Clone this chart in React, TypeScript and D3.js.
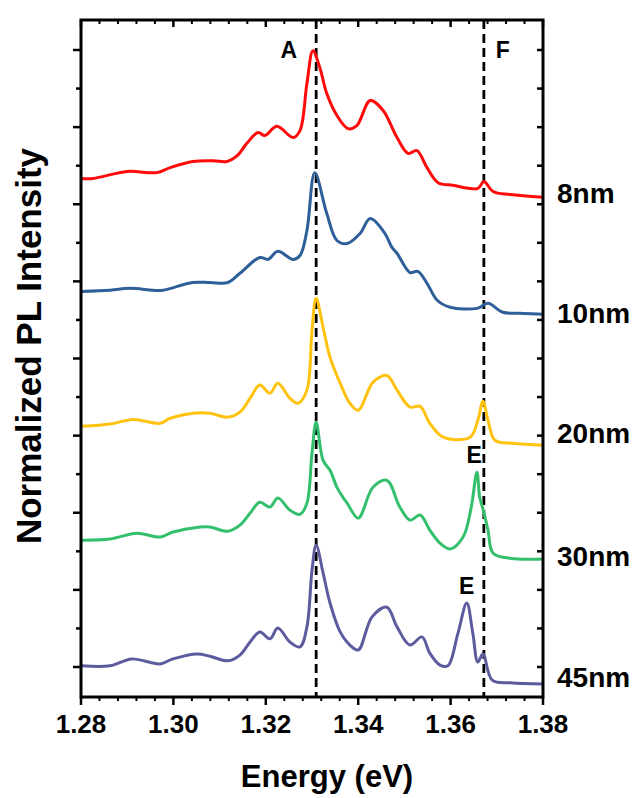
import React, { useEffect, useRef } from "react";
import * as d3 from "d3";

// spectra: energy in eV, intensity in stacked (offset) axis units
const energy8nm = [1.28, 1.2826, 1.29, 1.2964, 1.2993, 1.3042, 1.3086, 1.3116, 1.3138, 1.3159, 1.3183, 1.3198, 1.3224, 1.3259, 1.3274, 1.3289, 1.3302, 1.3317, 1.3332, 1.3354, 1.3378, 1.3397, 1.3426, 1.3454, 1.3484, 1.3508, 1.3527, 1.3549, 1.3573, 1.3605, 1.3659, 1.3672, 1.3692, 1.3729, 1.38];
const intensity8nm = [12.67, 12.67, 12.85, 12.82, 12.95, 13.11, 13.13, 13.11, 13.26, 13.58, 13.86, 13.78, 14.02, 13.73, 13.91, 15.13, 15.98, 15.54, 14.87, 14.3, 13.96, 14.04, 14.69, 14.43, 13.73, 13.32, 13.39, 12.95, 12.56, 12.49, 12.41, 12.59, 12.33, 12.25, 12.18];

const energy10nm = [1.2802, 1.2863, 1.2906, 1.2956, 1.2977, 1.3042, 1.3079, 1.3118, 1.3144, 1.3187, 1.3205, 1.3226, 1.3259, 1.3274, 1.3289, 1.3306, 1.3332, 1.3354, 1.3376, 1.3404, 1.3426, 1.3458, 1.3473, 1.3484, 1.3512, 1.3529, 1.3549, 1.3571, 1.3599, 1.3657, 1.3681, 1.3713, 1.3757, 1.38];
const intensity10nm = [9.74, 9.77, 9.82, 9.77, 9.77, 9.97, 9.97, 9.97, 10.21, 10.62, 10.57, 10.78, 10.57, 10.67, 11.32, 12.82, 11.76, 11.06, 10.98, 11.24, 11.63, 11.24, 10.88, 10.73, 10.23, 10.26, 9.95, 9.51, 9.33, 9.3, 9.43, 9.2, 9.17, 9.15];

const energy20nm = [1.2802, 1.2863, 1.2913, 1.2971, 1.2993, 1.3042, 1.3079, 1.3118, 1.3144, 1.3166, 1.3187, 1.3209, 1.3226, 1.3252, 1.327, 1.3289, 1.33, 1.3309, 1.3324, 1.3339, 1.3361, 1.3382, 1.34, 1.3432, 1.3462, 1.3484, 1.3512, 1.3534, 1.3555, 1.3584, 1.3642, 1.3659, 1.367, 1.3681, 1.3696, 1.3735, 1.38];
const intensity20nm = [6.24, 6.3, 6.42, 6.32, 6.45, 6.58, 6.58, 6.48, 6.61, 6.97, 7.31, 7.1, 7.36, 6.97, 6.84, 7.18, 8.73, 9.56, 8.81, 8.03, 7.36, 6.84, 6.66, 7.38, 7.56, 7.18, 6.74, 6.76, 6.32, 5.96, 5.96, 6.4, 6.89, 6.4, 5.88, 5.8, 5.75];

const energy30nm = [1.2802, 1.2863, 1.2921, 1.2971, 1.2999, 1.3058, 1.3079, 1.3118, 1.3144, 1.3166, 1.3187, 1.3209, 1.3226, 1.3252, 1.3274, 1.3289, 1.33, 1.3309, 1.3324, 1.3339, 1.3354, 1.3367, 1.3376, 1.34, 1.3432, 1.3462, 1.349, 1.3512, 1.3534, 1.3555, 1.3577, 1.3599, 1.3627, 1.3644, 1.3657, 1.3663, 1.367, 1.3681, 1.3692, 1.3729, 1.38];
const intensity30nm = [3.29, 3.32, 3.47, 3.37, 3.5, 3.63, 3.63, 3.52, 3.68, 3.99, 4.27, 4.15, 4.38, 4.07, 3.96, 4.25, 5.55, 6.35, 5.36, 5.1, 4.66, 4.4, 4.25, 3.86, 4.66, 4.84, 4.15, 3.81, 3.94, 3.55, 3.21, 3.06, 3.37, 4.1, 5.05, 4.4, 4.1, 3.55, 2.95, 2.82, 2.8];

const energy45nm = [1.2802, 1.2863, 1.291, 1.2971, 1.2999, 1.3051, 1.3079, 1.3118, 1.3144, 1.3166, 1.3187, 1.3209, 1.3226, 1.3252, 1.3274, 1.3289, 1.33, 1.3309, 1.3324, 1.3339, 1.3361, 1.3382, 1.34, 1.343, 1.3462, 1.3484, 1.3512, 1.3538, 1.3555, 1.3577, 1.3594, 1.3616, 1.3635, 1.3648, 1.3659, 1.367, 1.369, 1.3729, 1.38];
const intensity45nm = [0.03, 0.03, 0.21, 0.08, 0.21, 0.34, 0.28, 0.16, 0.31, 0.65, 0.91, 0.73, 1.01, 0.65, 0.52, 1.04, 2.51, 3.16, 2.44, 1.66, 0.91, 0.57, 0.44, 1.3, 1.55, 1.04, 0.57, 0.78, 0.36, 0.05, 0.03, 0.88, 1.66, 0.88, 0.13, 0.34, -0.34, -0.41, -0.44];

const seriesNames = ["8nm", "10nm", "20nm", "30nm", "45nm"];
const seriesEnergies = [energy8nm, energy10nm, energy20nm, energy30nm, energy45nm];
const seriesIntensities = [intensity8nm, intensity10nm, intensity20nm, intensity30nm, intensity45nm];
const seriesColors = ["#ff0a0a", "#2f5f98", "#ffc20e", "#33bf6c", "#5c5b9e"];
// where each thickness label sits (axis units)
const nameLevels = [12.02, 8.91, 5.8, 2.62, -0.52];

const xTickValues = [1.28, 1.3, 1.32, 1.34, 1.36, 1.38];
const peakLines = [1.3309, 1.3672];
const peakLetters = ["A", "F", "E", "E"];
const peakLetterEnergy = [1.325, 1.3713, 1.3651, 1.3635];
const peakLetterLevel = [15.78, 15.78, 5.28, 1.89];

function App() {
  const ref = useRef<SVGSVGElement | null>(null);

  useEffect(() => {
    drawChart();
  }, []);

  const drawChart = () => {
    const width = 640;
    const height = 798;
    const plot = { left: 81, right: 543, top: 20, bottom: 697 };

    const svg = d3.select(ref.current);
    svg.selectAll("*").remove();

    svg.append("rect").attr("width", width).attr("height", height).attr("fill", "#fff");

    const xScale = d3.scaleLinear().domain([1.28, 1.38]).range([plot.left, plot.right]);
    const yScale = d3.scaleLinear().domain([0, 16]).range([667, 50]);

    const font = "'Liberation Sans', Arial, sans-serif";

    //---- minor / major ticks ----//
    const xMinor = d3.range(0, 26).map((i) => 1.28 + i * 0.004);
    const yTicks = d3.range(0, 17);

    const ticks = svg.append("g").attr("stroke", "#000");
    xMinor.forEach((v, i) => {
      const major = i % 5 === 0;
      const x = xScale(v);
      // bottom ticks point outward, top ones inward
      ticks.append("line").attr("x1", x).attr("x2", x)
        .attr("y1", plot.bottom).attr("y2", plot.bottom + (major ? 8 : 4))
        .attr("stroke-width", major ? 2.5 : 2);
      ticks.append("line").attr("x1", x).attr("x2", x)
        .attr("y1", plot.top).attr("y2", plot.top + (major ? 7 : 4))
        .attr("stroke-width", major ? 2.5 : 2);
    });
    yTicks.forEach((v) => {
      const major = v % 2 === 0;
      const y = yScale(v);
      ticks.append("line").attr("x1", plot.left - (major ? 8 : 5)).attr("x2", plot.left)
        .attr("y1", y).attr("y2", y).attr("stroke-width", 2.5);
      ticks.append("line").attr("x1", plot.right - 6).attr("x2", plot.right)
        .attr("y1", y).attr("y2", y).attr("stroke-width", 2.5);
    });

    //---- dashed guide lines ----//
    peakLines.forEach((e) => {
      svg.append("line")
        .attr("x1", xScale(e)).attr("x2", xScale(e))
        .attr("y1", plot.top).attr("y2", plot.bottom)
        .attr("stroke", "#000")
        .attr("stroke-width", 2.8)
        .attr("stroke-dasharray", "9,5");
    });

    //---- spectra ----//
    const lineGenerator = d3
      .line<[number, number]>()
      .x((d) => xScale(d[0]))
      .y((d) => yScale(d[1]))
      .curve(d3.curveCatmullRom.alpha(0.5));

    seriesNames.forEach((name, i) => {
      const pts = seriesEnergies[i].map((e, j) => [e, seriesIntensities[i][j]] as [number, number]);
      svg.append("path")
        .attr("d", lineGenerator(pts))
        .attr("fill", "none")
        .attr("stroke", seriesColors[i])
        .attr("stroke-width", 3)
        .attr("stroke-linejoin", "round");

      svg.append("text")
        .attr("x", 557)
        .attr("y", yScale(nameLevels[i]))
        .attr("font-family", font)
        .attr("font-weight", "bold")
        .attr("font-size", 28)
        .text(name);
    });

    //---- frame ----//
    svg.append("rect")
      .attr("x", plot.left).attr("y", plot.top)
      .attr("width", plot.right - plot.left).attr("height", plot.bottom - plot.top)
      .attr("fill", "none").attr("stroke", "#000").attr("stroke-width", 3);

    //---- peak letters ----//
    peakLetters.forEach((t, i) => {
      svg.append("text")
        .attr("x", xScale(peakLetterEnergy[i]))
        .attr("y", yScale(peakLetterLevel[i]))
        .attr("text-anchor", "middle")
        .attr("font-family", font)
        .attr("font-weight", "bold")
        .attr("font-size", 23)
        .text(t);
    });

    //---- axis labels ----//
    xTickValues.forEach((v) => {
      svg.append("text")
        .attr("x", xScale(v))
        .attr("y", 733)
        .attr("text-anchor", "middle")
        .attr("font-family", font)
        .attr("font-weight", "bold")
        .attr("font-size", 26)
        .text(d3.format(".2f")(v));
    });

    svg.append("text")
      .attr("x", 327)
      .attr("y", 787)
      .attr("text-anchor", "middle")
      .attr("font-family", font)
      .attr("font-weight", "bold")
      .attr("font-size", 31)
      .text("Energy (eV)");

    svg.append("text")
      .attr("transform", "translate(41, 346) rotate(-90)")
      .attr("text-anchor", "middle")
      .attr("font-family", font)
      .attr("font-weight", "bold")
      .attr("font-size", 35)
      .text("Normalized PL Intensity");
  };

  return (
    <svg
      ref={ref}
      width={640}
      height={798}
      style={{ position: "absolute", left: 0, top: 0, display: "block" }}
    />
  );
}

export default App;
